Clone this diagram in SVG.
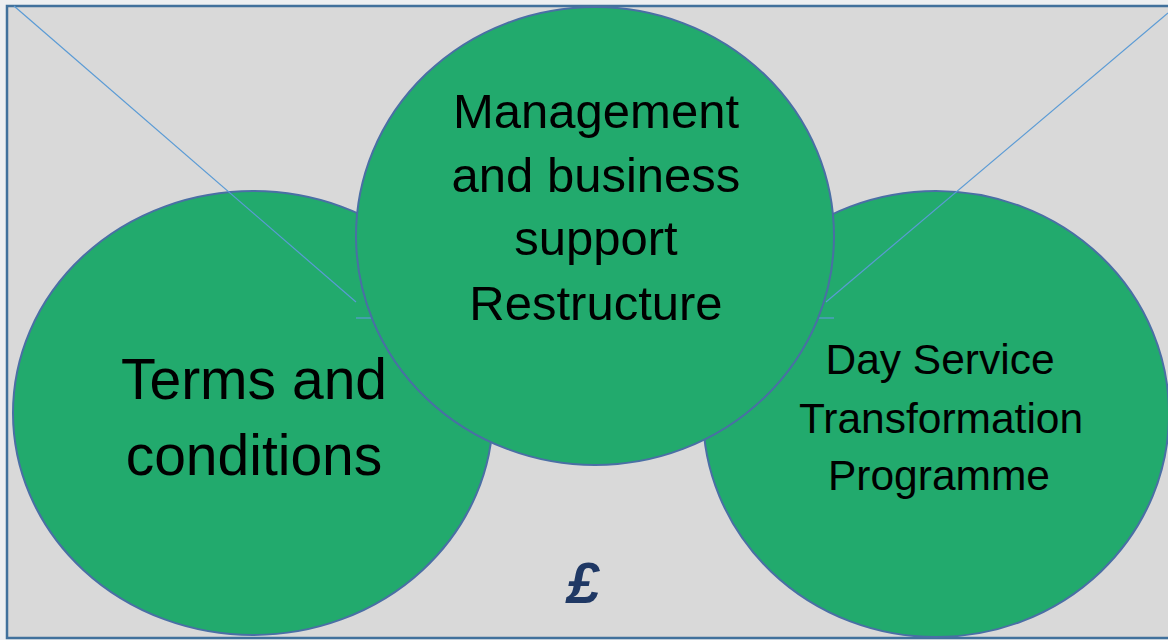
<svg xmlns="http://www.w3.org/2000/svg" width="1168" height="640" viewBox="0 0 1168 640">
  <style>
    .bubble { fill: #22AA6D; stroke: #4A6FA5; stroke-width: 2; }
    .label { font-family: "Liberation Sans", Arial, sans-serif; fill: #000000; text-anchor: middle; }
    .guide { stroke: #5B9BD5; stroke-width: 1.2; fill: none; }
  </style>
  <!-- page and framed panel -->
  <rect x="0" y="0" width="1168" height="640" fill="#EDEFF1"/>
  <rect x="7" y="6" width="1170" height="632" fill="#D9D9D9" stroke="#41719C" stroke-width="2.5"/>

  <g id="terms">
    <ellipse class="bubble" cx="253" cy="413" rx="240" ry="222"/>
    <text class="label" font-size="57" x="254" y="399">Terms and</text>
    <text class="label" font-size="57" x="254" y="475">conditions</text>
  </g>

  <g id="day-service">
    <ellipse class="bubble" cx="936" cy="414" rx="233" ry="223"/>
    <text class="label" font-size="42.5" x="940" y="374">Day Service</text>
    <text class="label" font-size="42.5" x="941" y="433">Transformation</text>
    <text class="label" font-size="42.5" x="939" y="490">Programme</text>
  </g>

  <!-- connector lines: over the side bubbles, under the centre bubble -->
  <g id="connectors">
    <line class="guide" x1="14" y1="6" x2="356" y2="302"/>
    <line class="guide" x1="356" y1="318" x2="372" y2="318"/>
    <line class="guide" x1="1168" y1="13" x2="826" y2="302"/>
    <line class="guide" x1="818" y1="318" x2="834" y2="318"/>
  </g>

  <g id="management">
    <ellipse class="bubble" cx="595" cy="236" rx="239" ry="229"/>
    <text class="label" font-size="49" x="596" y="128">Management</text>
    <text class="label" font-size="49" x="596" y="192">and business</text>
    <text class="label" font-size="49" x="596" y="255">support</text>
    <text class="label" font-size="49" x="596" y="320">Restructure</text>
  </g>

  <g id="pound">
    <text x="583" y="603" font-family="Liberation Sans, Arial, sans-serif" font-size="58" font-style="italic" font-weight="bold" fill="#1F3864" text-anchor="middle">£</text>
  </g>
</svg>
